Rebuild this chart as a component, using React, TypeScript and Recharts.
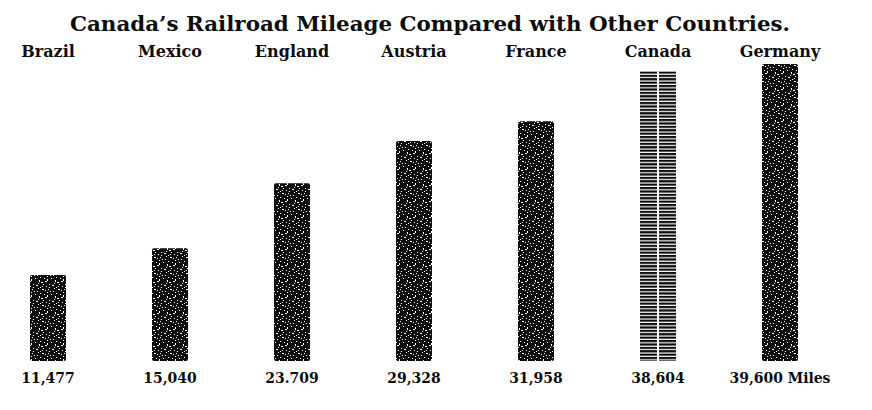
import React from 'react';
import { BarChart, Bar, XAxis, YAxis } from 'recharts';

const title = 'Canada\u2019s Railroad Mileage Compared with Other Countries.';
const countries = ['Brazil', 'Mexico', 'England', 'Austria', 'France', 'Canada', 'Germany'];
const mileage = [11477, 15040, 23709, 29328, 31958, 38604, 39600];
const mileageLabels = ['11,477', '15,040', '23.709', '29,328', '31,958', '38,604', '39,600 Miles'];
const stripedCountry = 'Canada';

const data = countries.map((c, i) => ({ country: c, miles: mileage[i], label: mileageLabels[i] }));

const SERIF = "'DejaVu Serif', 'Liberation Serif', serif";
const COND = "'DejaVu Serif Condensed', 'DejaVu Serif', serif";
const INK = '#0d0d0d';

const CatTick = (props: any) => (
  <text x={props.x} y={props.y} dy={-4} textAnchor="middle" fontFamily={SERIF} fontWeight="bold" fontSize={16} fill={INK}>
    {props.payload.value}
  </text>
);

const ValTick = (props: any) => (
  <text x={props.x} y={props.y} dy={22} textAnchor="middle" fontFamily={COND} fontWeight="bold" fontSize={15.5} fill={INK}>
    {props.payload.value}
  </text>
);

const BarShape = (props: any) => {
  const { x, y, width, height, payload } = props;
  if (payload && payload.country === stripedCountry) {
    return (
      <g>
        <rect x={x} y={y} width={width} height={height} fill="url(#stripes)" />
        <rect x={x + width / 2 - 1} y={y} width={2} height={height} fill="#fff" />
      </g>
    );
  }
  return <rect x={x} y={y} width={width} height={height} rx={2} ry={2} fill="url(#speckle)" />;
};

const specks: [number, number, number, number][] = [
  [2, 3, 1, 1], [7, 1, 2, 1], [12, 4, 1, 1], [4, 8, 1, 2], [10, 9, 2, 1], [14, 12, 1, 1],
  [1, 13, 2, 1], [7, 14, 1, 1], [5, 5, 1, 1], [13, 1, 1, 1], [9, 6, 1, 1], [3, 11, 1, 1], [11, 14, 1, 1],
  [0, 6, 1, 1], [6, 10, 2, 1], [12, 7, 1, 2], [15, 3, 1, 1], [8, 12, 1, 1], [3, 0, 1, 1], [10, 2, 1, 1],
  [14, 15, 1, 1], [5, 15, 1, 1],
];

export default function App() {
  return (
    <div style={{ position: 'absolute', left: 0, top: 0, width: 872, height: 410, background: '#fff', overflow: 'hidden' }}>
      <div style={{ position: 'absolute', left: -13, top: 0 }}>
        <BarChart width={885} height={410} data={data} margin={{ top: 0, right: 31, bottom: 0, left: 0 }} barSize={36}>
          <defs>
            <pattern id="speckle" width={16} height={16} patternUnits="userSpaceOnUse">
              <rect width={16} height={16} fill={INK} />
              {specks.map((s, i) => (
                <rect key={i} x={s[0]} y={s[1]} width={s[2]} height={s[3]} fill="#fff" />
              ))}
            </pattern>
            <pattern id="stripes" width={4} height={3.4} patternUnits="userSpaceOnUse">
              <rect width={4} height={2.2} fill={INK} />
            </pattern>
          </defs>
          <XAxis xAxisId="cat" dataKey="country" orientation="top" height={61} axisLine={false} tickLine={false} tickSize={0} tickMargin={0} tick={<CatTick />} interval={0} />
          <XAxis xAxisId="val" dataKey="label" orientation="bottom" height={49} axisLine={false} tickLine={false} tickSize={0} tickMargin={0} tick={<ValTick />} interval={0} />
          <YAxis hide domain={[0, 40000]} />
          <Bar xAxisId="cat" dataKey="miles" isAnimationActive={false} shape={<BarShape />} />
        </BarChart>
      </div>
      <svg width={872} height={40} style={{ position: 'absolute', left: 0, top: 0 }}>
        <text x={430} y={31} textAnchor="middle" textLength={720} lengthAdjust="spacingAndGlyphs" fontFamily={SERIF} fontWeight="bold" fontSize={21} fill={INK}>
          {title}
        </text>
      </svg>
    </div>
  );
}
